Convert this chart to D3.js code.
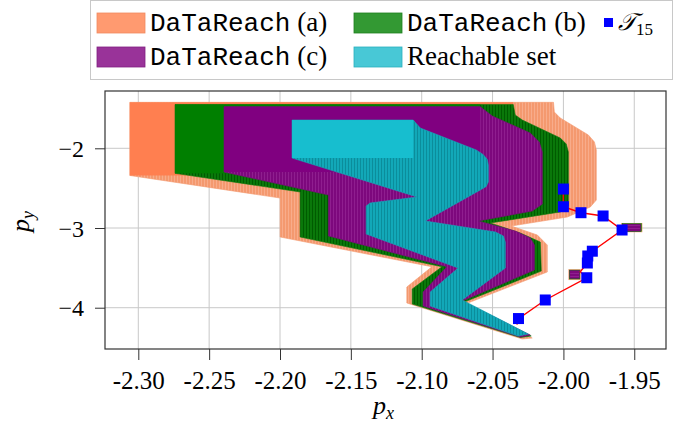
<!DOCTYPE html>
<html><head><meta charset="utf-8">
<script src="https://cdn.jsdelivr.net/npm/d3@7"></script>
<style>body{margin:0;background:#fff}svg{display:block}</style>
</head><body>
<svg id="c" width="687" height="430"></svg>
<script>
// ---------- data ----------
const xTicks = [-2.30,-2.25,-2.20,-2.15,-2.10,-2.05,-2.00,-1.95];
const yTicks = [-2,-3,-4];
const seriesNames = ["DaTaReach (a)","DaTaReach (b)","DaTaReach (c)","Reachable set"];

// outline of the union of boxes (p_x, p_y) for each set
const aX = [-2.306,-2.007,-2.0064,-2.0022,-1.9824,-1.9781,-1.9768,-1.9768,-1.981,-1.9972,-2.0368,-2.0184,-2.0114,-2.0114,-2.0693,-2.022,-2.0291,-2.1105,-2.1105,-2.0928,-2.1999,-2.1999,-2.306];
const aY = [-1.423,-1.423,-1.545,-1.620,-1.833,-1.921,-2.021,-2.649,-2.736,-2.862,-2.975,-3.088,-3.213,-3.552,-3.954,-4.380,-4.392,-3.941,-3.740,-3.486,-3.113,-2.624,-2.341];
const bX = [-2.2741,-2.0354,-2.034,-2.029,-2.0022,-1.998,-1.9965,-1.9965,-2.0022,-2.0516,-2.0304,-2.0163,-2.0156,-2.07,-2.0227,-2.0304,-2.1067,-2.1067,-2.0857,-2.1858,-2.1858,-2.2741];
const bY = [-1.450,-1.450,-1.582,-1.645,-1.871,-1.946,-2.046,-2.724,-2.799,-2.937,-3.063,-3.176,-3.540,-3.929,-4.355,-4.374,-3.954,-3.765,-3.486,-3.113,-2.548,-2.314];
const cX = [-2.2395,-2.0587,-2.0502,-2.0234,-2.017,-2.0149,-2.0149,-2.022,-2.0601,-2.0339,-2.0234,-2.0205,-2.0205,-2.0714,-2.0234,-2.0304,-2.099,-2.099,-2.0822,-2.1658,-2.1658,-2.2395];
const cY = [-1.478,-1.478,-1.595,-1.808,-1.921,-2.046,-2.699,-2.787,-2.912,-3.038,-3.125,-3.213,-3.527,-3.916,-4.343,-4.368,-3.979,-3.803,-3.486,-3.100,-2.586,-2.297];
const rX = [-2.1915,-2.106,-2.101,-2.0615,-2.0565,-2.0537,-2.053,-2.053,-2.0545,-2.0587,-2.0975,-2.048,-2.0424,-2.041,-2.041,-2.0714,-2.0248,-2.0319,-2.094,-2.094,-2.0743,-2.1392,-2.1392,-2.1364,-2.1032,-2.1915];
const rY = [-1.645,-1.645,-1.746,-2.021,-2.080,-2.140,-2.209,-2.423,-2.480,-2.523,-2.912,-3.050,-3.100,-3.176,-3.502,-3.903,-4.330,-4.355,-3.979,-3.803,-3.502,-3.075,-2.724,-2.686,-2.611,-2.122];

// part of the last box of each set left uncovered by later boxes: [xmin, xmax, ymin, ymax]
const aBox = [-2.306,-2.0354,-2.341,-1.423];
const bBox = [-2.2741,-2.0587,-2.314,-1.450];
const cBox = [-2.2395,-2.0587,-2.297,-1.478];
const rBox = [-2.1915,-2.106,-2.122,-1.645];

// small boxes near the trajectory: [xmin, xmax, ymin, ymax]
const aTips = [[-1.9590,-1.9445,-3.050,-2.940],[-1.9962,-1.9880,-3.650,-3.520]];
const bTips = [[-1.9585,-1.9450,-3.045,-2.945],[-1.9958,-1.9884,-3.640,-3.528]];
const cTips = [[-1.9580,-1.9456,-3.038,-2.952],[-1.9954,-1.9888,-3.630,-3.536]];

// trajectory T_15
const trajX = [-2.000,-2.000,-1.9876,-1.972,-1.9586,-1.9796,-1.9828,-1.9831,-1.9881,-1.9835,-2.0128,-2.0317,-2.0328];
const trajY = [-2.511,-2.733,-2.808,-2.849,-3.025,-3.291,-3.351,-3.439,-3.548,-3.624,-3.903,-4.136,-4.212];
const trajMarker = [1,1,1,1,1,1,1,1,0,1,1,1,0];

// ---------- drawing ----------
const svg = d3.select("#c");
const L=105, R=666, T=91, B=349;
const x = d3.scaleLinear().domain([-2.3235,-1.9276]).range([L,R]);
const y = d3.scaleLinear().domain([-4.518,-1.281]).range([B,T]);

const styles = [
  {id:"a", X:aX, Y:aY, box:aBox, tips:aTips, flat:"#FF7F50", sweep:"#F4996F", stripe:"#F8AC8B", leg:"#FF9A70", legS:"#F08A60"},
  {id:"b", X:bX, Y:bY, box:bBox, tips:bTips, flat:"#007F00", sweep:"#0A780A", stripe:"#005C00", leg:"#339933", legS:"#1F7F1F"},
  {id:"c", X:cX, Y:cY, box:cBox, tips:cTips, flat:"#800080", sweep:"#7D087D", stripe:"#8F1E8F", leg:"#993399", legS:"#802080"},
  {id:"r", X:rX, Y:rY, box:rBox, tips:[], flat:"#17BECF", sweep:"#12A8B8", stripe:"#0B8D9B", leg:"#48C8D6", legS:"#2AAFBF"}
];

const defs = svg.append("defs");
styles.forEach(s=>{
  const p = defs.append("pattern").attr("id","st-"+s.id).attr("patternUnits","userSpaceOnUse")
    .attr("width",3).attr("height",6);
  p.append("rect").attr("width",3).attr("height",6).attr("fill",s.sweep);
  p.append("rect").attr("x",0).attr("width",1).attr("height",6).attr("fill",s.stripe);
  const h = defs.append("pattern").attr("id","hs-"+s.id).attr("patternUnits","userSpaceOnUse")
    .attr("width",6).attr("height",3);
  h.append("rect").attr("width",6).attr("height",3).attr("fill",s.sweep);
  h.append("rect").attr("y",0).attr("width",6).attr("height",1).attr("fill",s.stripe);
});
defs.append("clipPath").attr("id","plotclip").append("rect")
  .attr("x",L).attr("y",T).attr("width",R-L).attr("height",B-T);

// grid
const grid = svg.append("g").attr("stroke","#c8c8c8").attr("stroke-width",1);
grid.selectAll(".gx").data(xTicks).join("line")
  .attr("x1",d=>x(d)).attr("x2",d=>x(d)).attr("y1",T).attr("y2",B);
grid.selectAll(".gy").data(yTicks).join("line")
  .attr("y1",d=>y(d)).attr("y2",d=>y(d)).attr("x1",L).attr("x2",R);

// sets
const plot = svg.append("g").attr("clip-path","url(#plotclip)");
const line = d3.line();
styles.forEach(s=>{
  const pts = s.X.map((v,i)=>[x(v), y(s.Y[i])]);
  plot.append("path").attr("d", line(pts)+"Z")
    .attr("fill","url(#st-"+s.id+")").attr("stroke",s.sweep).attr("stroke-width",0.6);
  s.tips.forEach(t=>{
    plot.append("rect").attr("x",x(t[0])).attr("y",y(t[3]))
      .attr("width",x(t[1])-x(t[0])).attr("height",y(t[2])-y(t[3]))
      .attr("fill","url(#hs-"+s.id+")").attr("stroke",s.sweep).attr("stroke-width",0.5);
  });
  plot.append("rect").attr("x",x(s.box[0])).attr("y",y(s.box[3]))
    .attr("width",x(s.box[1])-x(s.box[0])).attr("height",y(s.box[2])-y(s.box[3]))
    .attr("fill",s.flat);
});

// trajectory
const tp = trajX.map((v,i)=>[x(v), y(trajY[i])]);
plot.append("path").attr("d", line(tp)).attr("fill","none").attr("stroke","#ff0000").attr("stroke-width",1.4);
plot.selectAll(".mk").data(tp.filter((d,i)=>trajMarker[i])).join("rect")
  .attr("x",d=>d[0]-5.5).attr("y",d=>d[1]-5.5).attr("width",11).attr("height",11).attr("fill","#0000ff");

// frame
svg.append("rect").attr("x",L).attr("y",T).attr("width",R-L).attr("height",B-T)
  .attr("fill","none").attr("stroke","#333").attr("stroke-width",1.2);

// axes
const xa = svg.append("g").attr("transform",`translate(0,${B})`)
  .call(d3.axisBottom(x).tickValues(xTicks).tickSize(11).tickFormat(d=>d.toFixed(2)));
xa.select(".domain").remove();
xa.selectAll("line").attr("stroke","#333");
xa.selectAll("text").attr("y",40).attr("dy",0)
  .style("font-family","'Liberation Serif', serif").style("font-size","25px").attr("fill","#000");

const ya = svg.append("g").attr("transform",`translate(${L},0)`)
  .call(d3.axisLeft(y).tickValues(yTicks).tickSize(10).tickFormat(d=>"\u2212"+Math.abs(d)));
ya.select(".domain").remove();
ya.selectAll("line").attr("stroke","#333");
ya.selectAll("text").attr("x",-21).attr("dy","0.34em")
  .style("font-family","'Liberation Serif', serif").style("font-size","24px").attr("fill","#000");

// axis labels
const xl = svg.append("text").attr("x",373).attr("y",414)
  .style("font-family","'Liberation Serif', serif").style("font-size","26px").style("font-style","italic");
xl.append("tspan").text("p");
xl.append("tspan").attr("dy",5).style("font-size","18px").text("x");

const yl = svg.append("text").attr("transform","translate(29,232) rotate(-90)")
  .style("font-family","'Liberation Serif', serif").style("font-size","26px").style("font-style","italic");
yl.append("tspan").text("p");
yl.append("tspan").attr("dy",5).style("font-size","18px").text("y");

// legend
const lg = svg.append("g");
lg.append("rect").attr("x",90.5).attr("y",0.5).attr("width",582).attr("height",79)
  .attr("fill","#fff").attr("stroke","#c8c8c8").attr("stroke-width",1);
const legPos = [[97,13],[354,13],[97,47],[354,47]];
styles.forEach((s,i)=>{
  const [px,py] = legPos[i];
  lg.append("rect").attr("x",px).attr("y",py).attr("width",48).attr("height",20)
    .attr("fill",s.leg).attr("stroke",s.legS).attr("stroke-width",0.8);
  const t = lg.append("text").attr("x",px+53).attr("y",py+18).style("font-size","27px").attr("fill","#000");
  const nm = seriesNames[i];
  if (nm.startsWith("DaTaReach")) {
    t.append("tspan").style("font-family","'Liberation Mono', monospace").style("font-size","26px").text("DaTaReach");
    t.append("tspan").style("font-family","'Liberation Serif', serif").text(" " + nm.slice(10));
  } else {
    t.append("tspan").style("font-family","'Liberation Serif', serif").text(nm);
  }
});
lg.append("rect").attr("x",604).attr("y",18).attr("width",9).attr("height",9).attr("fill","#0000ff");
const tl = lg.append("text").attr("x",618).attr("y",30).style("font-family","'Liberation Serif', serif").style("font-size","24px");
tl.append("tspan").style("font-style","italic").text("\u{1D4AF}");
tl.append("tspan").attr("dy",5).style("font-size","17px").text("15");
</script>
</body></html>
